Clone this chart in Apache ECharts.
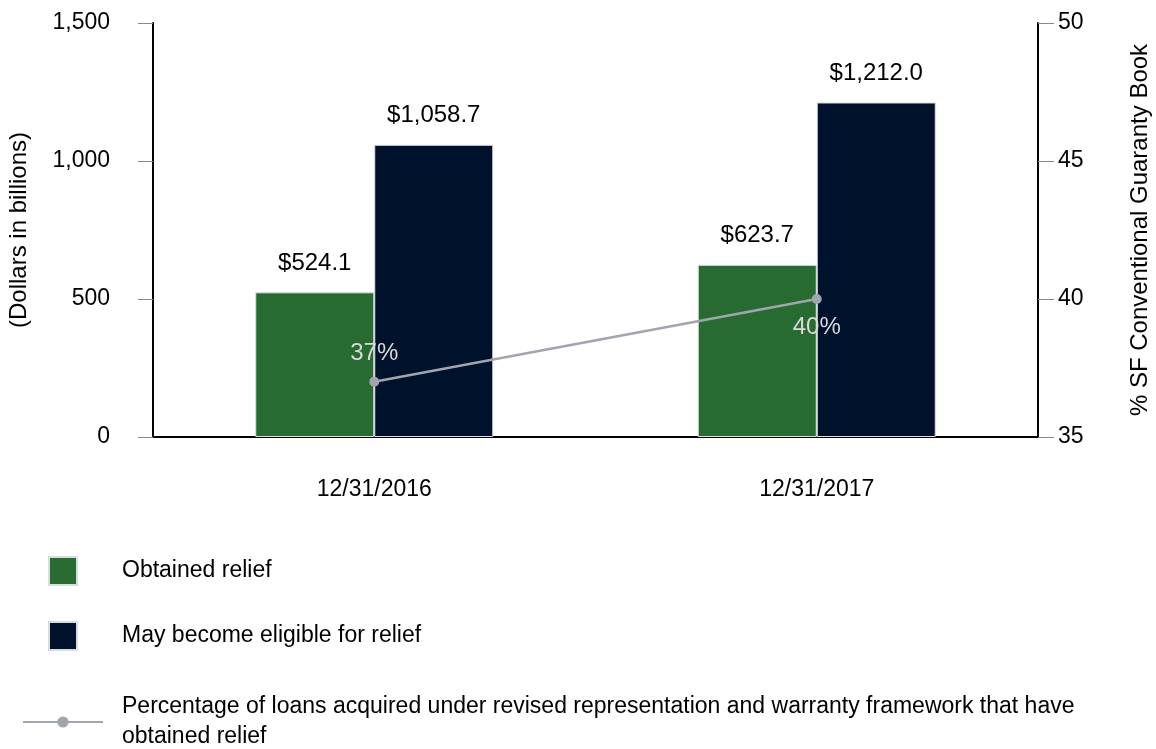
<!DOCTYPE html>
<html><head><meta charset="utf-8">
<script src="https://cdn.jsdelivr.net/npm/echarts@6/dist/echarts.min.js"></script>
<style>html,body{margin:0;padding:0;background:#fff}#c{width:1156px;height:749px}</style>
</head><body><div id="c"></div>
<script>
const categories = ['12/31/2016', '12/31/2017'];
const obtainedRelief = [524.1, 623.7];
const mayBecomeEligible = [1058.7, 1212.0];
const pctObtained = [37, 40];
const leftTicks = [0, 500, 1000, 1500];
const rightTicks = [35, 40, 45, 50];
const names = ['Obtained relief', 'May become eligible for relief',
  'Percentage of loans acquired under revised representation and warranty framework that have obtained relief'];

const font = 'Liberation Sans, Arial, sans-serif';
const chart = echarts.init(document.getElementById('c'));
const fmtMoney = v => '$' + v.toLocaleString('en-US', {minimumFractionDigits: 1, maximumFractionDigits: 1});
const legendText = {fontSize: 23, color: '#000', fontFamily: font};
chart.setOption({
  animation: false,
  textStyle: {fontFamily: font},
  grid: {left: 153, right: 118, top: 23, bottom: 312, containLabel: false, outerBoundsMode: 'none'},
  legend: [
    {data: [names[0]], left: 48, top: 556, padding: 0, orient: 'vertical', itemWidth: 28, itemHeight: 28, icon: 'rect',
     textStyle: Object.assign({padding: [0, 0, 0, 40]}, legendText)},
    {data: [names[1]], left: 48, top: 621, padding: 0, orient: 'vertical', itemWidth: 28, itemHeight: 28, icon: 'rect',
     textStyle: Object.assign({padding: [0, 0, 0, 40]}, legendText)},
    {data: [names[2]], left: 22, top: 692, padding: 0, orient: 'vertical', itemWidth: 80, itemHeight: 14,
     textStyle: Object.assign({padding: [0, 0, 0, 14], width: 1010, overflow: 'break', lineHeight: 30}, legendText)}
  ],
  xAxis: {
    type: 'category', data: categories,
    axisLine: {lineStyle: {color: '#000', width: 2}},
    axisTick: {alignWithLabel: true, length: 12, lineStyle: {color: '#888'}},
    axisLabel: {fontSize: 23, color: '#000', margin: 41, fontFamily: font}
  },
  yAxis: [
    {type: 'value', min: 0, max: 1500, interval: 500,
     name: '(Dollars in billions)', nameLocation: 'middle', nameGap: 122, nameRotate: 90,
     nameTextStyle: {fontSize: 24, color: '#000', fontFamily: font},
     axisLine: {show: true, lineStyle: {color: '#000', width: 2}},
     axisTick: {show: true, length: 15, lineStyle: {color: '#888'}},
     splitLine: {show: false},
     axisLabel: {fontSize: 23, color: '#000', margin: 43, fontFamily: font,
       formatter: v => v.toLocaleString('en-US')}},
    {type: 'value', min: 35, max: 50, interval: 5, position: 'right',
     name: '% SF Conventional Guaranty Book', nameLocation: 'middle', nameGap: 90, nameRotate: 90,
     nameTextStyle: {fontSize: 24, color: '#000', fontFamily: font},
     axisLine: {show: true, lineStyle: {color: '#000', width: 2}},
     axisTick: {show: true, length: 16, lineStyle: {color: '#888'}},
     splitLine: {show: false},
     axisLabel: {fontSize: 23, color: '#000', margin: 20, fontFamily: font}}
  ],
  series: [
    {name: names[0], type: 'bar', data: obtainedRelief, barWidth: 119, barGap: '0%',
     itemStyle: {color: '#276b30', borderColor: '#d8dde0', borderWidth: 1},
     label: {show: true, position: 'top', distance: 17, fontSize: 24, color: '#000', fontFamily: font, formatter: p => fmtMoney(p.value)}},
    {name: names[1], type: 'bar', data: mayBecomeEligible, barWidth: 119, barGap: '0%',
     itemStyle: {color: '#00112c', borderColor: '#d8dde0', borderWidth: 1},
     label: {show: true, position: 'top', distance: 17, fontSize: 24, color: '#000', fontFamily: font, formatter: p => fmtMoney(p.value)}},
    {name: names[2], type: 'line', yAxisIndex: 1, data: [
       {value: pctObtained[0], label: {position: 'top'}},
       {value: pctObtained[1], label: {position: 'bottom'}}],
     symbol: 'circle', symbolSize: 10, z: 5,
     lineStyle: {color: '#a0a5ae', width: 2.5}, itemStyle: {color: '#a0a5ae'},
     label: {show: true, distance: 11, fontSize: 24, color: '#d9d9d9', fontFamily: font, formatter: p => p.value + '%'}}
  ]
});
</script></body></html>
